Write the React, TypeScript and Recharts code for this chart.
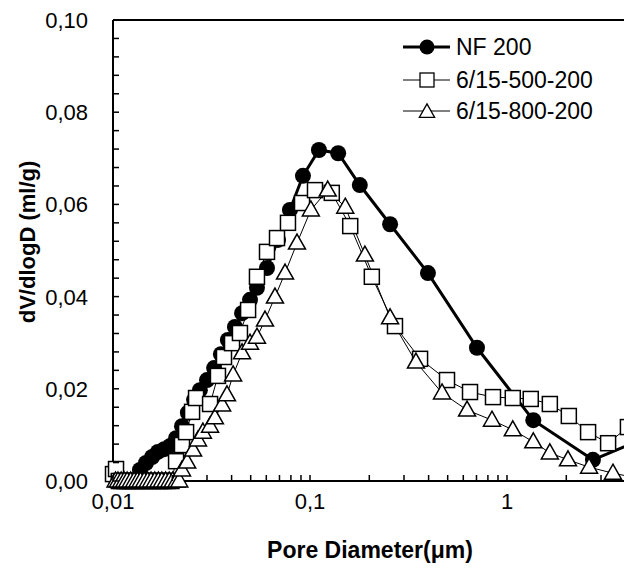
import React from 'react';
import { LineChart, Line, XAxis, YAxis, Legend, ReferenceLine, Label } from 'recharts';

// NF 200
const nfDiam = [0.0104, 0.0107, 0.0110, 0.0113, 0.0116, 0.0120, 0.0124, 0.0128, 0.0132,
  0.0137, 0.0147, 0.0158, 0.0169, 0.0182, 0.0195, 0.0209, 0.0224, 0.0240, 0.0258, 0.0276,
  0.0300, 0.0326, 0.0353, 0.0383, 0.0416, 0.0452, 0.0496, 0.0538, 0.0605, 0.0688, 0.0791,
  0.0921, 0.111, 0.139, 0.179, 0.255, 0.397, 0.704, 1.36, 2.73, 5.51];
const nfVol = [0, 0, 0, 0, 0, 0, 0, 0, 0,
  0.0024, 0.0039, 0.0052, 0.0063, 0.0069, 0.0076, 0.0093, 0.0119, 0.0148, 0.0176, 0.0197,
  0.0219, 0.0245, 0.0275, 0.0306, 0.0334, 0.0364, 0.0393, 0.0419, 0.0462, 0.0523, 0.0588,
  0.0662, 0.0718, 0.0711, 0.0642, 0.0557, 0.0451, 0.0289, 0.0132, 0.0046, 0.0100];

// 6/15-500-200
const sqDiam = [0.0100, 0.01036, 0.0107, 0.0110, 0.0114, 0.0118, 0.0122, 0.0126, 0.0131, 0.0136,
  0.0141, 0.0147, 0.0153, 0.0159, 0.0166, 0.0173, 0.0181, 0.0189, 0.0198,
  0.0209, 0.0224, 0.0235, 0.0252, 0.0264, 0.0311, 0.0341, 0.0366, 0.0402, 0.0441, 0.0485,
  0.0538, 0.0605, 0.0680, 0.0773, 0.0911, 0.106, 0.129, 0.160, 0.206, 0.270, 0.362, 0.496,
  0.649, 0.849, 1.07, 1.32, 1.65, 2.06, 2.58, 3.26, 4.11];
const sqVol = [0.0015, 0.0026, 0, 0, 0, 0, 0, 0, 0, 0,
  0, 0, 0, 0, 0, 0, 0, 0, 0,
  0.0043, 0.0078, 0.0106, 0.0150, 0.0180, 0.0167, 0.0228, 0.0269, 0.0299, 0.0321, 0.0371,
  0.0443, 0.0497, 0.0527, 0.0560, 0.0603, 0.0631, 0.0625, 0.0553, 0.0443, 0.0336, 0.0265, 0.0219,
  0.0193, 0.0182, 0.0180, 0.0178, 0.0167, 0.0141, 0.0106, 0.0082, 0.0117];

// 6/15-800-200
const trDiam = [0.0103, 0.0106, 0.0110, 0.0114, 0.0118, 0.0123, 0.0128, 0.0133, 0.0138, 0.0144,
  0.0150, 0.0156, 0.0163, 0.0170, 0.0177, 0.0185, 0.0193, 0.0201, 0.0210, 0.0217,
  0.0224, 0.0238, 0.0255, 0.0270, 0.0286, 0.0311, 0.0329, 0.0358, 0.0379, 0.0407, 0.0452,
  0.0496, 0.0538, 0.0591, 0.0664, 0.0747, 0.0859, 0.101, 0.123, 0.151, 0.190, 0.255, 0.345,
  0.468, 0.627, 0.839, 1.07, 1.36, 1.65, 2.04, 2.61, 3.45, 4.52];
const trVol = [0, 0, 0, 0, 0, 0, 0, 0, 0, 0,
  0, 0, 0, 0, 0, 0, 0, 0, 0, 0,
  0.0024, 0.0041, 0.0067, 0.0089, 0.0106, 0.0119, 0.0137, 0.0165, 0.0187, 0.0230, 0.0278,
  0.0299, 0.0312, 0.0349, 0.0399, 0.0451, 0.0516, 0.0588, 0.0631, 0.0594, 0.0490, 0.0354, 0.0258,
  0.0191, 0.0154, 0.0132, 0.0111, 0.0085, 0.0061, 0.0046, 0.0030, 0.0017, 0.0007];

const seriesNames = ['NF 200', '6/15-500-200', '6/15-800-200'];

const xTicks = [0.01, 0.02, 0.03, 0.04, 0.05, 0.06, 0.07, 0.08, 0.09,
  0.1, 0.2, 0.3, 0.4, 0.5, 0.6, 0.7, 0.8, 0.9, 1, 2, 3, 4, 5, 6, 7, 8, 9];
const xTickLabels: Record<string, string> = { '0.01': '0,01', '0.1': '0,1', '1': '1' };
const yTicks = [0, 0.004, 0.008, 0.012, 0.016, 0.02, 0.024, 0.028, 0.032, 0.036, 0.04,
  0.044, 0.048, 0.052, 0.056, 0.06, 0.064, 0.068, 0.072, 0.076, 0.08,
  0.084, 0.088, 0.092, 0.096, 0.1];

const build = (d: number[], v: number[]) => d.map((x, i) => ({ d: x, v: v[i] }));
const nfData = build(nfDiam, nfVol);
const sqData = build(sqDiam, sqVol);
const trData = build(trDiam, trVol);

const FONT = '"Liberation Sans", Arial, sans-serif';

const CircleDot = (p: any) => (
  <circle key={`c${p.index}`} cx={p.cx} cy={p.cy} r={8} fill="#000" />
);
const SquareDot = (p: any) => (
  <rect key={`s${p.index}`} x={p.cx - 7.5} y={p.cy - 7.5} width={15} height={15}
    fill="#fff" stroke="#000" strokeWidth={1.5} />
);
const triPoints = (cx: number, cy: number, s: number) =>
  `${cx},${cy - s * 9} ${cx + s * 8.5},${cy + s * 6} ${cx - s * 8.5},${cy + s * 6}`;
const TriDot = (p: any) => (
  <polygon key={`t${p.index}`} points={triPoints(p.cx, p.cy, 1)}
    fill="#fff" stroke="#000" strokeWidth={1.5} strokeLinejoin="miter" />
);

const XTick = (props: any) => {
  const { x, y, payload } = props;
  const label = xTickLabels[String(payload.value)];
  return (
    <g>
      <line x1={x} y1={y} x2={x} y2={y - 6} stroke="#000" strokeWidth={1.5} />
      {label && (
        <text x={x} y={y + 28} textAnchor="middle" fontSize={22} fontFamily={FONT} fill="#000">
          {label}
        </text>
      )}
    </g>
  );
};

const YTick = (props: any) => {
  const { x, y, payload } = props;
  const v = payload.value as number;
  const major = Math.abs(v * 50 - Math.round(v * 50)) < 1e-6;
  return (
    <g>
      <line x1={x} y1={y} x2={x + 6} y2={y} stroke="#000" strokeWidth={1.5} />
      {major && (
        <text x={x - 25} y={y} dy="0.36em" textAnchor="end" fontSize={22} fontFamily={FONT} fill="#000">
          {v.toFixed(2).replace('.', ',')}
        </text>
      )}
    </g>
  );
};

const LegendContent = () => {
  const rows = [21, 54, 85];
  return (
    <svg width={224} height={110} style={{ display: 'block' }}>
      {seriesNames.map((name, i) => {
        const y = rows[i];
        const marker =
          i === 0 ? <circle cx={27} cy={y} r={7.5} fill="#000" /> :
          i === 1 ? <rect x={20} y={y - 7} width={14} height={14} fill="#fff" stroke="#000" strokeWidth={1.3} /> :
          <polygon points={triPoints(27, y + 1, 0.9)} fill="#fff" stroke="#000" strokeWidth={1.3} />;
        return (
          <g key={i}>
            <line x1={3} y1={y} x2={50} y2={y} stroke="#000" strokeWidth={i === 0 ? 3 : 1} />
            {marker}
            <text x={56} y={y} dy="0.36em" fontSize={23} fontFamily={FONT} fill="#000">
              {name}
            </text>
          </g>
        );
      })}
    </svg>
  );
};

export default function App() {
  return (
    <div style={{ position: 'absolute', left: 0, top: 0, width: 624, height: 568, overflow: 'hidden', background: '#fff' }}>
      <LineChart width={704} height={568} margin={{ top: 20, right: 0, bottom: 0, left: 0 }}>
        <XAxis dataKey="d" type="number" scale="log" domain={[0.01, 10]} ticks={xTicks}
          height={87} tickSize={0} tickMargin={0} tickLine={false} interval={0}
          axisLine={{ stroke: '#000', strokeWidth: 2 }} tick={<XTick />}>
          <Label content={() => (
            <text x={370} y={558} textAnchor="middle" fontSize={23} fontWeight="bold" fontFamily={FONT} fill="#000">
              Pore Diameter(μm)
            </text>
          )} />
        </XAxis>
        <YAxis type="number" dataKey="v" domain={[0, 0.1]} ticks={yTicks} width={113}
          tickSize={0} tickMargin={0} tickLine={false} interval={0}
          axisLine={{ stroke: '#000', strokeWidth: 2 }} tick={<YTick />}>
          <Label content={() => (
            <text x={27} y={242} textAnchor="middle" fontSize={22} fontWeight="bold" fontFamily={FONT}
              fill="#000" transform="rotate(-90 27 242)" dy="0.36em">
              dV/dlogD (ml/g)
            </text>
          )} />
        </YAxis>
        <ReferenceLine y={0.1} stroke="#000" strokeWidth={2} />
        <Legend layout="vertical" align="center" verticalAlign="middle" content={<LegendContent />}
          wrapperStyle={{ left: 400, top: 26, width: 224 }} />
        <Line name={seriesNames[0]} data={nfData} dataKey="v" stroke="#000" strokeWidth={3}
          dot={CircleDot} activeDot={false} isAnimationActive={false} />
        <Line name={seriesNames[1]} data={sqData} dataKey="v" stroke="#000" strokeWidth={1}
          dot={SquareDot} activeDot={false} isAnimationActive={false} />
        <Line name={seriesNames[2]} data={trData} dataKey="v" stroke="#000" strokeWidth={1}
          dot={TriDot} activeDot={false} isAnimationActive={false} />
      </LineChart>
    </div>
  );
}
